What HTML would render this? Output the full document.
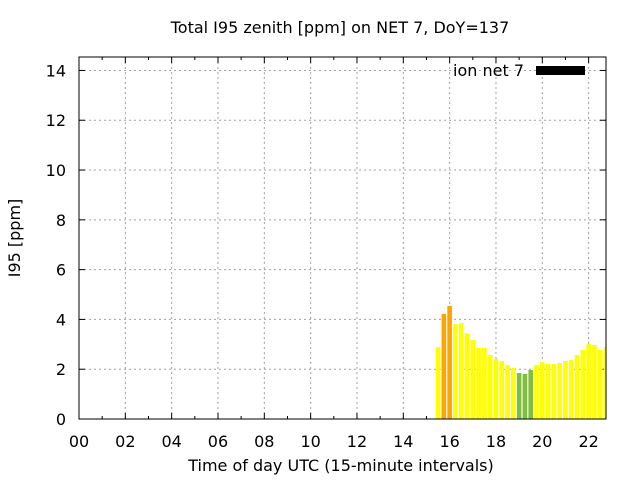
<!DOCTYPE html>
<html><head><meta charset="utf-8"><style>
body{margin:0;background:#fff;font-family:"DejaVu Sans",sans-serif}
</style></head><body>
<svg id="c" width="640" height="480" xmlns="http://www.w3.org/2000/svg" font-family="DejaVu Sans, Liberation Sans, sans-serif" font-size="16">
</svg>
<script>
const hours=["00","02","04","06","08","10","12","14","16","18","20","22"];
const yTicks=[0,2,4,6,8,10,12,14];
const barStart=15.5;
const values=[2.89,4.22,4.54,3.82,3.86,3.45,3.17,2.85,2.85,2.57,2.41,2.33,2.17,2.05,1.85,1.81,1.97,2.17,2.29,2.21,2.21,2.25,2.33,2.37,2.57,2.77,3.01,2.97,2.77,2.89];
const colors=["y","o","o","y","y","y","y","y","y","y","y","y","y","y","g","g","g","y","y","y","y","y","y","y","y","y","y","y","y","y"];
const L=79,R=606,T=57,B=419,xMax=22.75,yMax=14.54;
const X=h=>L+h*(R-L)/xMax, Y=v=>B-v*(B-T)/yMax;
const svg=document.getElementById('c');const NS="http://www.w3.org/2000/svg";
function el(t,a,txt){const e=document.createElementNS(NS,t);for(const k in a)e.setAttribute(k,a[k]);if(txt!=null)e.textContent=txt;svg.appendChild(e);return e;}
const cmap={y:"#ffff00",o:"#ffa500",g:"#7fbf3f"};
yTicks.forEach(v=>{if(v>0){const g=el('line',{x1:L,x2:R,y1:Y(v),y2:Y(v),stroke:'#a0a0a0','stroke-dasharray':'2,3'});

}
const t=el('text',{x:L-13,y:Y(v)+6,'text-anchor':'end'},String(v));


el('line',{x1:L,x2:L+6,y1:Y(v),y2:Y(v),stroke:'#000'});el('line',{x1:R,x2:R-6,y1:Y(v),y2:Y(v),stroke:'#000'});});
for(let h=1;h<=22;h++){const x=X(h);const maj=h%2==0;
if(maj){const g=el('line',{x1:x,x2:x,y1:T,y2:B,stroke:'#a0a0a0','stroke-dasharray':'2,3'});

}
el('line',{x1:x,x2:x,y1:B,y2:B-(maj?6:3),stroke:'#000'});el('line',{x1:x,x2:x,y1:T,y2:T+(maj?6:3),stroke:'#000'});}
hours.forEach(h=>{const t=el('text',{x:X(+h),y:B+28,'text-anchor':'middle'},h);

});
const bw=(R-L)/xMax*0.25*0.8;
values.forEach((v,i)=>{const c=X(barStart+0.25*i);let x0=c-bw/2,x1=Math.min(c+bw/2,R);
const b=el('rect',{x:x0,y:Y(v),width:x1-x0,height:B-Y(v),fill:cmap[colors[i]]});

});
el('rect',{x:L,y:T,width:R-L,height:B-T,fill:'none',stroke:'#000'});
const lt=el('text',{x:524,y:76,'text-anchor':'end'},'ion net 7');


const lb=el('rect',{x:536,y:66,width:49,height:9,fill:'#000'});


const tt=el('text',{x:340,y:33,'text-anchor':'middle'},'Total I95 zenith [ppm] on NET 7, DoY=137');


const xt=el('text',{x:341,y:471,'text-anchor':'middle'},'Time of day UTC (15-minute intervals)');


const yt=el('text',{x:20,y:238,'text-anchor':'middle',transform:'rotate(-90 20 238)'},'I95 [ppm]');


</script>
</body></html>
